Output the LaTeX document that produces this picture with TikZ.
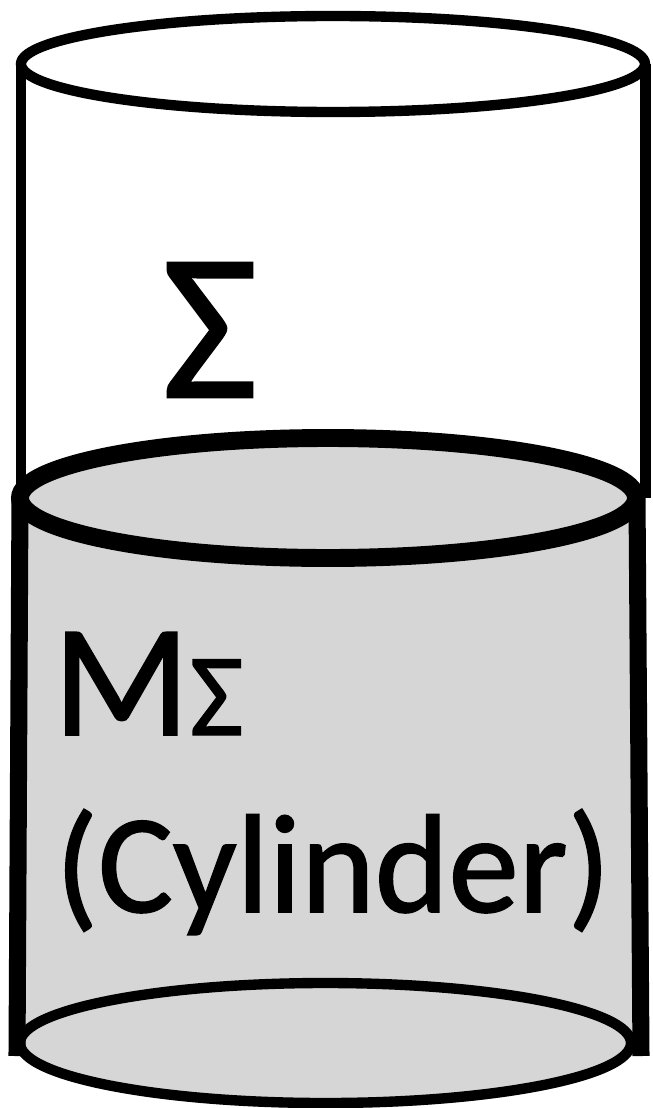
\documentclass[tikz,border=0pt]{standalone}
\usepackage{fontspec}
\setmainfont{Carlito}[FakeBold=1.2]
\usetikzlibrary{positioning}
\definecolor{cylgray}{RGB}{214,214,214}

\begin{document}
\begin{tikzpicture}[x=0.02cm, y=-0.02cm, line cap=butt,
  rim/.style={draw=black, line width=5.9pt},
  thickrim/.style={draw=black, line width=10.2pt, fill=cylgray},
  wall/.style={black, line width=6pt},
  thickwall/.style={black, line width=9.7pt},
  label/.style={inner sep=0pt, outer sep=0pt}]
\useasboundingbox (0,0) rectangle (652,1108);
% outer cylinder
\draw[wall] (21,64) -- (21,498);
\draw[wall] (645.5,64) -- (645.5,498);
\draw[rim] (333,64) ellipse [x radius=312, y radius=48];
% inner cylinder
\fill[cylgray] (327,1048) ellipse [x radius=305.5, y radius=60];
\fill[cylgray] (20,498) -- (637,498) -- (641,1042) -- (17,1042) -- cycle;
\draw[rim, fill=cylgray] (325.5,1043) ellipse [x radius=305.5, y radius=60];
\draw[thickwall] (20,498) -- (17,1056);
\draw[thickwall] (637,498) -- (641,1056);
\draw[thickrim] (328,498) ellipse [x radius=308, y radius=60];
% labels
\node[label, font=\fontsize{119}{119}\selectfont, anchor=base] (sigma) at (210,397) {Σ};
\node[label, anchor=base west] (msigma) at (53,735) {\fontsize{91}{91}\selectfont M\fontsize{67}{67}\selectfont Σ};
\node[label, font=\fontsize{80}{80}\selectfont, anchor=base] (cyl) at (333,912) {(Cylinder)};
\end{tikzpicture}
\end{document}
